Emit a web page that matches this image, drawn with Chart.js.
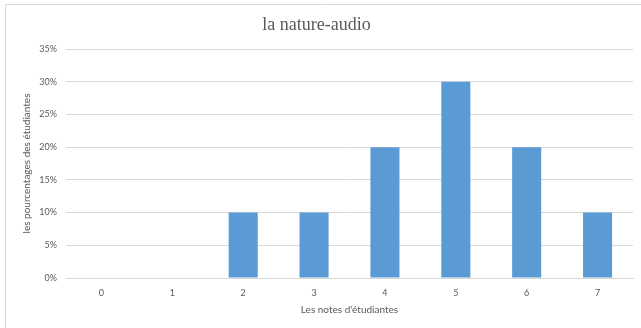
<!DOCTYPE html>
<html>
<head>
<meta charset="utf-8">
<script src="https://cdn.jsdelivr.net/npm/chart.js@4"></script>
<style>
  html, body { margin: 0; padding: 0; background: #fff; }
  #wrap { width: 641px; height: 328px; position: relative; }
</style>
</head>
<body>
<div id="wrap"><canvas id="c" width="641" height="328"></canvas></div>
<script>
// Grades (0-7) and share of students per grade
const notes = ['0', '1', '2', '3', '4', '5', '6', '7'];
const pourcentages = [0, 0, 0.10, 0.10, 0.20, 0.30, 0.20, 0.10];
const titre = 'la nature-audio';
const titreX = "Les notes d'étudiantes";
const titreY = 'les pourcentages des étudiantes';

const grey = '#595959';
const gridGrey = '#d9d9d9';

// Light frame along the top and left edges of the canvas
const framePlugin = {
  id: 'frame',
  beforeDraw(chart) {
    const ctx = chart.ctx;
    ctx.save();
    ctx.fillStyle = '#ffffff';
    ctx.fillRect(0, 0, chart.width, chart.height);
    ctx.strokeStyle = gridGrey;
    ctx.lineWidth = 1;
    ctx.beginPath();
    ctx.moveTo(5.5, chart.height);
    ctx.lineTo(5.5, 4.5);
    ctx.lineTo(chart.width, 4.5);
    ctx.stroke();
    ctx.restore();
  }
};

new Chart(document.getElementById('c'), {
  type: 'bar',
  data: {
    labels: notes,
    datasets: [{
      data: pourcentages,
      backgroundColor: '#5b9bd5',
      borderWidth: 0,
      categoryPercentage: 1,
      barPercentage: 0.41
    }]
  },
  options: {
    responsive: false,
    animation: false,
    layout: { padding: { left: 0, right: 8, top: 0, bottom: 0 } },
    plugins: {
      legend: { display: false },
      tooltip: { enabled: false },
      title: {
        display: true,
        text: titre,
        color: grey,
        font: { family: '"Liberation Serif", "Times New Roman", serif', size: 18, weight: 'normal' },
        padding: { top: 14, bottom: 13.4 }
      }
    },
    scales: {
      x: {
        grid: { display: false, drawTicks: false },
        border: { display: true, color: gridGrey },
        ticks: { color: grey, font: { family: 'Lato, sans-serif', size: 9 }, padding: 10 },
        title: {
          display: true,
          text: titreX,
          color: grey,
          font: { family: 'Lato, sans-serif', size: 10 },
          padding: { top: 0, bottom: 12 }
        },
        afterFit(scale) { scale.height = 50; }
      },
      y: {
        min: 0,
        max: 0.35,
        grid: { color: gridGrey, drawTicks: false },
        border: { display: false },
        ticks: {
          stepSize: 0.05,
          color: grey,
          padding: 9,
          font: { family: 'Lato, sans-serif', size: 9 },
          callback: v => Math.round(v * 100) + '%'
        },
        title: {
          display: true,
          text: titreY,
          color: grey,
          font: { family: 'Lato, sans-serif', size: 10 },
          padding: { top: 21, bottom: 0 }
        },
        afterFit(scale) { scale.width = 66; }
      }
    }
  },
  plugins: [framePlugin]
});
</script>
</body>
</html>
